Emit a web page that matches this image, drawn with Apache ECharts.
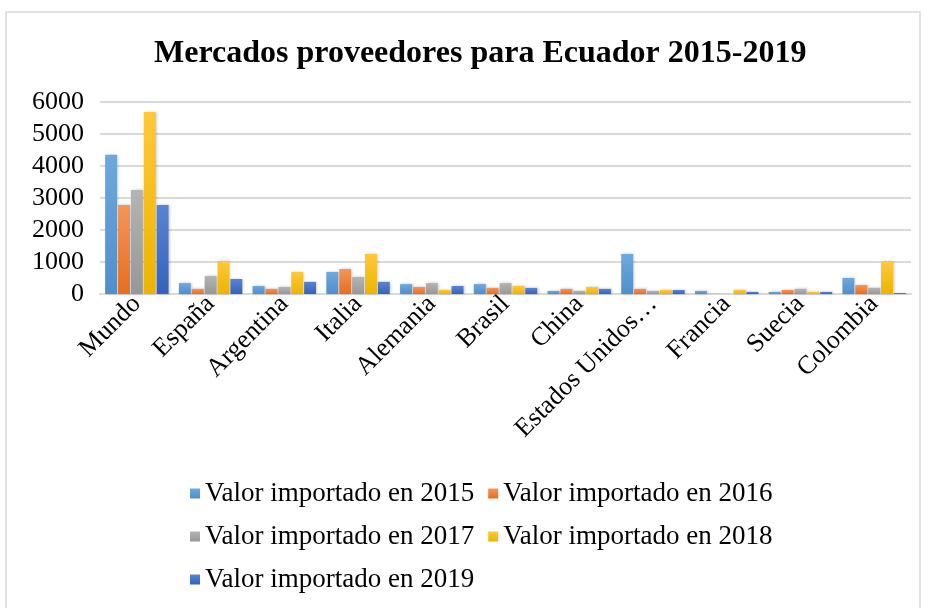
<!DOCTYPE html>
<html>
<head>
<meta charset="utf-8">
<script src="https://cdn.jsdelivr.net/npm/echarts@6/dist/echarts.min.js"></script>
<style>
  html, body { margin: 0; padding: 0; background: #fff; }
  #chart { width: 925px; height: 608px; }
</style>
</head>
<body>
<div id="chart"></div>
<script>
const categories = ["Mundo", "España", "Argentina", "Italia", "Alemania", "Brasil", "China", "Estados Unidos…", "Francia", "Suecia", "Colombia"];
const v2015 = [4350, 340, 250, 690, 310, 310, 95, 1250, 95, 65, 500];
const v2016 = [2780, 160, 160, 780, 220, 190, 160, 160, 8, 125, 280];
const v2017 = [3250, 560, 220, 530, 340, 340, 95, 95, 2, 160, 190];
const v2018 = [5690, 1030, 690, 1250, 125, 250, 220, 125, 125, 65, 1000];
const v2019 = [2780, 470, 380, 380, 250, 190, 160, 125, 65, 65, 30];
const yTicks = [0, 1000, 2000, 3000, 4000, 5000, 6000];

const seriesNames = ["Valor importado en 2015", "Valor importado en 2016", "Valor importado en 2017", "Valor importado en 2018", "Valor importado en 2019"];
const seriesData = [v2015, v2016, v2017, v2018, v2019];
// light / dark ends of each bar gradient
const colors = [
  ["#6FA8DC", "#4E8FCC"],
  ["#F4955A", "#E56E1F"],
  ["#B4B4B4", "#979797"],
  ["#FFC83A", "#ECB400"],
  ["#5A84D2", "#3462BC"]
];

const chart = echarts.init(document.getElementById("chart"));

const serif = "Liberation Serif, Times New Roman, serif";

const options = {
  animation: false,
  title: {
    text: "Mercados proveedores para Ecuador 2015-2019",
    left: 149,
    top: 33,
    textStyle: { fontFamily: serif, fontSize: 32, fontWeight: "bold", color: "#000" }
  },
  graphic: [{
    type: "rect",
    shape: { x: 6, y: 12, width: 914, height: 600 },
    style: { fill: "none", stroke: "#d9d9d9", lineWidth: 1.5 },
    silent: true
  }],
  legend: {
    left: 185,
    top: 474,
    width: 620,
    itemWidth: 10,
    itemHeight: 10,
    itemGap: 14,
    icon: "rect",
    textStyle: { fontFamily: serif, fontSize: 27, lineHeight: 29, color: "#000" },
    data: seriesNames
  },
  grid: { left: 100, right: 14, top: 102, height: 192 },
  xAxis: {
    type: "category",
    data: categories,
    axisTick: { show: false },
    axisLine: { lineStyle: { color: "#d9d9d9", width: 2 } },
    axisLabel: {
      interval: 0,
      rotate: 45,
      margin: 6,
      fontFamily: serif,
      fontSize: 26,
      color: "#000"
    }
  },
  yAxis: {
    type: "value",
    min: yTicks[0],
    max: yTicks[yTicks.length - 1],
    interval: 1000,
    axisLabel: {
      fontFamily: serif,
      fontSize: 26,
      color: "#000",
      margin: 16,
      formatter: (v) => String(v)
    },
    splitLine: { lineStyle: { color: "#d9d9d9", width: 2 } },
    axisLine: { show: false },
    axisTick: { show: false }
  },
  series: seriesNames.map((name, i) => ({
    name: name,
    type: "bar",
    data: seriesData[i],
    barGap: "8%",
    barCategoryGap: "14%",
    itemStyle: {
      color: new echarts.graphic.LinearGradient(0, 0, 0, 1, [
        { offset: 0, color: colors[i][0] },
        { offset: 1, color: colors[i][1] }
      ]),
      shadowColor: "rgba(0,0,0,0.25)",
      shadowBlur: 3,
      shadowOffsetX: 1
    }
  }))
};

chart.setOption(options);
</script>
</body>
</html>
